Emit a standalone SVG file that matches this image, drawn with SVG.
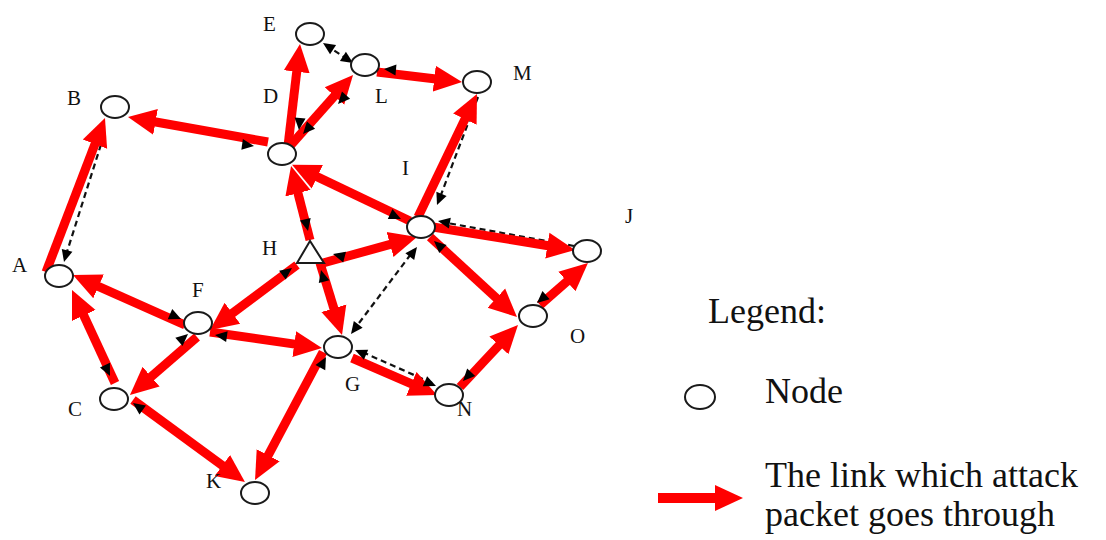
<svg xmlns="http://www.w3.org/2000/svg" xmlns:xlink="http://www.w3.org/1999/xlink" width="1106" height="540" viewBox="0 0 1106 540">
<style>
.node{fill:#fff;stroke:#1a1a1a;stroke-width:2}
.lbl{font-family:"Liberation Serif","Times New Roman",serif;font-size:21px;fill:#111}
.leg{font-family:"Liberation Serif","Times New Roman",serif;font-size:36px;fill:#111}
.red{stroke:#ff0000;stroke-width:9;fill:none;marker-end:url(#ra)}
.dash{stroke:#111;stroke-width:2.2;stroke-dasharray:6 4;fill:none}
.sa{fill:#000}
</style>
<defs>
<marker id="ra" markerUnits="userSpaceOnUse" viewBox="0 -14 28 28" markerWidth="28" markerHeight="28" refX="4" refY="0" orient="auto">
<path d="M0,-13 L28,0 L0,13 z" fill="#ff0000"/>
</marker>
<path id="sa" d="M0,0 L-12,-5.5 L-12,5.5 z"/>
</defs>
<rect width="1106" height="540" fill="#fff"/>
<g id="connectors">
<g id="dashed">
<line class="dash" x1="104" y1="135" x2="66" y2="255"/>
<line class="dash" x1="478" y1="97" x2="439" y2="200"/>
<line class="dash" x1="574" y1="246" x2="442" y2="222"/>
<line class="dash" x1="432" y1="383" x2="360" y2="351"/>
<line class="dash" x1="353" y1="331" x2="414" y2="250"/>
<line class="dash" x1="326" y1="45" x2="350" y2="61"/>
</g>
<g id="red-links">
<line class="red" x1="46" y1="272" x2="96.4" y2="140.4"/>
<line class="red" x1="268" y1="142" x2="151.6" y2="121.2"/>
<line class="red" x1="288" y1="146" x2="297.2" y2="67.8"/>
<line class="red" x1="290" y1="146" x2="337.1" y2="93"/>
<line class="red" x1="377" y1="72" x2="438.2" y2="79.2"/>
<line class="red" x1="418" y1="217" x2="466.6" y2="115.6"/>
<line class="red" x1="410" y1="221" x2="313.7" y2="175.1"/>
<line class="red" x1="310" y1="240" x2="297" y2="189.3"/>
<line class="red" x1="323" y1="263" x2="393.9" y2="243.4"/>
<line class="red" x1="433" y1="227" x2="551.3" y2="246.2"/>
<line class="red" x1="430" y1="237" x2="499.3" y2="300.8"/>
<line class="red" x1="540" y1="305" x2="569.9" y2="278.8"/>
<line class="red" x1="460" y1="387" x2="501.6" y2="342.5"/>
<line class="red" x1="352" y1="358" x2="415" y2="385.4"/>
<line class="red" x1="320" y1="263" x2="335" y2="312.1"/>
<line class="red" x1="297" y1="265" x2="229.2" y2="315.6"/>
<line class="red" x1="185" y1="325" x2="94.9" y2="284.8"/>
<line class="red" x1="210" y1="332" x2="298.2" y2="344.6"/>
<line class="red" x1="197" y1="337" x2="148.1" y2="379.3"/>
<line class="red" x1="115" y1="383" x2="82.1" y2="311.8"/>
<line class="red" x1="133" y1="400" x2="225.6" y2="467.8"/>
<line class="red" x1="323" y1="352" x2="266.3" y2="458.8"/>
</g>
<g id="small-arrows" class="sa">
<use href="#sa" transform="translate(254,146) rotate(8)"/>
<use href="#sa" transform="translate(303,134) rotate(132)"/>
<use href="#sa" transform="translate(338,104) rotate(132)"/>
<use href="#sa" transform="translate(299,130) rotate(95)"/>
<use href="#sa" transform="translate(384,69) rotate(185)"/>
<use href="#sa" transform="translate(323,43) rotate(213)"/>
<use href="#sa" transform="translate(353,63) rotate(33)"/>
<use href="#sa" transform="translate(64,262) rotate(105)"/>
<use href="#sa" transform="translate(437,205) rotate(112)"/>
<use href="#sa" transform="translate(438,221) rotate(190)"/>
<use href="#sa" transform="translate(401,219) rotate(25)"/>
<use href="#sa" transform="translate(308,231) rotate(77)"/>
<use href="#sa" transform="translate(333,254) rotate(195)"/>
<use href="#sa" transform="translate(434,241) rotate(222)"/>
<use href="#sa" transform="translate(417,247) rotate(-53)"/>
<use href="#sa" transform="translate(351,334) rotate(127)"/>
<use href="#sa" transform="translate(321,270) rotate(-105)"/>
<use href="#sa" transform="translate(292,268) rotate(-37)"/>
<use href="#sa" transform="translate(181,319) rotate(24)"/>
<use href="#sa" transform="translate(215,335) rotate(188)"/>
<use href="#sa" transform="translate(188,334) rotate(-41)"/>
<use href="#sa" transform="translate(110,376) rotate(65)"/>
<use href="#sa" transform="translate(133,403) rotate(216)"/>
<use href="#sa" transform="translate(326,357) rotate(-62)"/>
<use href="#sa" transform="translate(355,350) rotate(203)"/>
<use href="#sa" transform="translate(436,386) rotate(23)"/>
<use href="#sa" transform="translate(537,303) rotate(139)"/>
<use href="#sa" transform="translate(463,381) rotate(133)"/>
</g>
</g>
<g id="node-E"><ellipse class="node" cx="310" cy="34" rx="14" ry="11"/><text class="lbl" x="263" y="31">E</text></g>
<g id="node-L"><ellipse class="node" cx="365" cy="65" rx="14" ry="11"/><text class="lbl" x="375" y="103">L</text></g>
<g id="node-M"><ellipse class="node" cx="477" cy="82" rx="14" ry="11"/><text class="lbl" x="513" y="80">M</text></g>
<g id="node-B"><ellipse class="node" cx="115" cy="107" rx="14" ry="11"/><text class="lbl" x="67" y="105">B</text></g>
<g id="node-D"><ellipse class="node" cx="282" cy="154" rx="14" ry="11"/><text class="lbl" x="263" y="103">D</text></g>
<g id="node-I"><ellipse class="node" cx="421" cy="227" rx="14" ry="11"/><text class="lbl" x="402" y="175">I</text></g>
<g id="node-J"><ellipse class="node" cx="587" cy="251" rx="14" ry="11"/><text class="lbl" x="625" y="223">J</text></g>
<g id="node-A"><ellipse class="node" cx="59" cy="276" rx="14" ry="11"/><text class="lbl" x="12" y="272">A</text></g>
<g id="node-H"><polygon class="node" points="310,241 297,263 324,263"/><text class="lbl" x="262" y="255">H</text></g>
<g id="node-F"><ellipse class="node" cx="198" cy="323" rx="14" ry="11"/><text class="lbl" x="192" y="297">F</text></g>
<g id="node-G"><ellipse class="node" cx="338" cy="347" rx="14" ry="11"/><text class="lbl" x="345" y="391">G</text></g>
<g id="node-O"><ellipse class="node" cx="533" cy="316" rx="14" ry="11"/><text class="lbl" x="570" y="343">O</text></g>
<g id="node-C"><ellipse class="node" cx="114" cy="399" rx="14" ry="11"/><text class="lbl" x="68" y="416">C</text></g>
<g id="node-N"><ellipse class="node" cx="449" cy="395" rx="14" ry="11"/><text class="lbl" x="457" y="416">N</text></g>
<g id="node-K"><ellipse class="node" cx="255" cy="493" rx="14" ry="11"/><text class="lbl" x="206" y="488">K</text></g>
<g id="legend">
<text class="leg" x="708" y="323">Legend:</text>
<ellipse class="node" cx="700" cy="397" rx="15" ry="12"/>
<text class="leg" x="765" y="403">Node</text>
<line x1="658" y1="498" x2="719" y2="498" stroke="#ff0000" stroke-width="10" marker-end="url(#ra)"/>
<text class="leg" x="765" y="487">The link which attack</text>
<text class="leg" x="765" y="526">packet goes through</text>
</g>
</svg>
